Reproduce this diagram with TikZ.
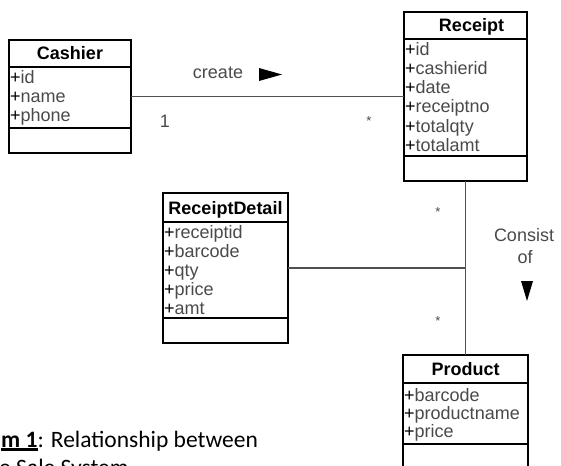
\documentclass[tikz,border=0pt]{standalone}
\usepackage{fontspec}
\setmainfont{Liberation Sans}
\newfontfamily\capfont{Carlito}
\definecolor{txtgray}{HTML}{4A4A4A}
\definecolor{linegray}{HTML}{505050}
\newcommand\attrtxt[1]{\textcolor{black}{+}#1}
\newcommand\ulbold[1]{\setbox0\hbox{#1}\rlap{\rule[-3.6pt]{\wd0}{2.2pt}}\box0}
\begin{document}
\begin{tikzpicture}[x=1pt,y=-1pt,
  classbox/.style={draw=black, line width=1.6pt, inner sep=0pt, outer sep=0pt},
  divider/.style={draw=black, line width=1.6pt},
  titletxt/.style={font=\fontsize{18}{19}\selectfont\bfseries, anchor=base, inner sep=0pt},
  attr/.style={font=\fontsize{18}{19}\selectfont, text=txtgray, anchor=base west, inner sep=0pt},
  lbl/.style={font=\fontsize{18}{19}\selectfont, text=txtgray, anchor=base, inner sep=0pt},
  starlbl/.style={font=\fontsize{13}{14}\selectfont, text=txtgray, anchor=base, inner sep=0pt},
  conn/.style={draw=linegray, line width=1.4pt},
  captxt/.style={font=\capfont\fontsize{23.5}{28}\selectfont, anchor=base west, inner sep=0pt},
]
\useasboundingbox (0,0) rectangle (561,465);
\fill[white] (0,0) rectangle (561,465);

% Cashier
\node[classbox, minimum width=122pt, minimum height=113pt] (cashier) at (70,96.5) {};
\draw[divider] (cashier.west |- 0,67) -- (cashier.east |- 0,67);
\draw[divider] (cashier.west |- 0,128) -- (cashier.east |- 0,128);
\node[titletxt] (cashiert) at (70,60) {Cashier};
\node[attr] (ca1) at (10,84) {\attrtxt{id}};
\node[attr] (ca2) at (10,103) {\attrtxt{name}};
\node[attr] (ca3) at (10,122) {\attrtxt{phone}};

% Receipt
\node[classbox, minimum width=123pt, minimum height=169pt] (receipt) at (465.5,96.5) {};
\draw[divider] (receipt.west |- 0,39) -- (receipt.east |- 0,39);
\draw[divider] (receipt.west |- 0,156) -- (receipt.east |- 0,156);
\node[titletxt] (receiptt) at (471.5,32) {Receipt};
\node[attr] (ra1) at (405,56) {\attrtxt{id}};
\node[attr] (ra2) at (405,75) {\attrtxt{cashierid}};
\node[attr] (ra3) at (405,94) {\attrtxt{date}};
\node[attr] (ra4) at (405,113) {\attrtxt{receiptno}};
\node[attr] (ra5) at (405,132) {\attrtxt{totalqty}};
\node[attr] (ra6) at (405,151) {\attrtxt{totalamt}};

% ReceiptDetail
\node[classbox, minimum width=125pt, minimum height=150pt] (detail) at (225.5,268) {};
\draw[divider] (detail.west |- 0,222) -- (detail.east |- 0,222);
\draw[divider] (detail.west |- 0,318) -- (detail.east |- 0,318);
\node[titletxt] (detailt) at (225.5,214) {ReceiptDetail};
\node[attr] (da1) at (164,238) {\attrtxt{receiptid}};
\node[attr] (da2) at (164,257) {\attrtxt{barcode}};
\node[attr] (da3) at (164,276) {\attrtxt{qty}};
\node[attr] (da4) at (164,295) {\attrtxt{price}};
\node[attr] (da5) at (164,314) {\attrtxt{amt}};

% Product
\node[classbox, minimum width=125pt, minimum height=115pt] (product) at (465.5,412.5) {};
\draw[divider] (product.west |- 0,383) -- (product.east |- 0,383);
\draw[divider] (product.west |- 0,444) -- (product.east |- 0,444);
\node[titletxt] (productt) at (465.5,375.5) {Product};
\node[attr] (pa1) at (404,401) {\attrtxt{barcode}};
\node[attr] (pa2) at (404,419) {\attrtxt{productname}};
\node[attr] (pa3) at (404,437) {\attrtxt{price}};

% Connectors
\draw[conn] (cashier) -- (receipt);
\draw[conn] (receipt) -- (product);
\coordinate (junc) at (receipt.south |- detail.east);
\draw[conn] (detail) -- (junc);

% Labels
\node[lbl] (create) at (218,79) {create};
\fill (259,68) -- (282,74.5) -- (259,81) -- cycle;
\node[lbl] (one) at (165,128) {1};
\node[starlbl] (star1) at (369,126) {*};
\node[starlbl] (star2) at (438,216) {*};
\node[starlbl] (star3) at (438,325) {*};
\node[lbl] (consist) at (524,241.5) {Consist};
\node[lbl] (of) at (525,263) {of};
\fill (521,281) -- (533,281) -- (527,301) -- cycle;

% Caption
\node[captxt] (cap1) at (1,447) {\ulbold{\textbf{m 1}}: Relationship between};
\node[captxt] (cap2) at (-1,475) {e Sale System};
\end{tikzpicture}
\end{document}
